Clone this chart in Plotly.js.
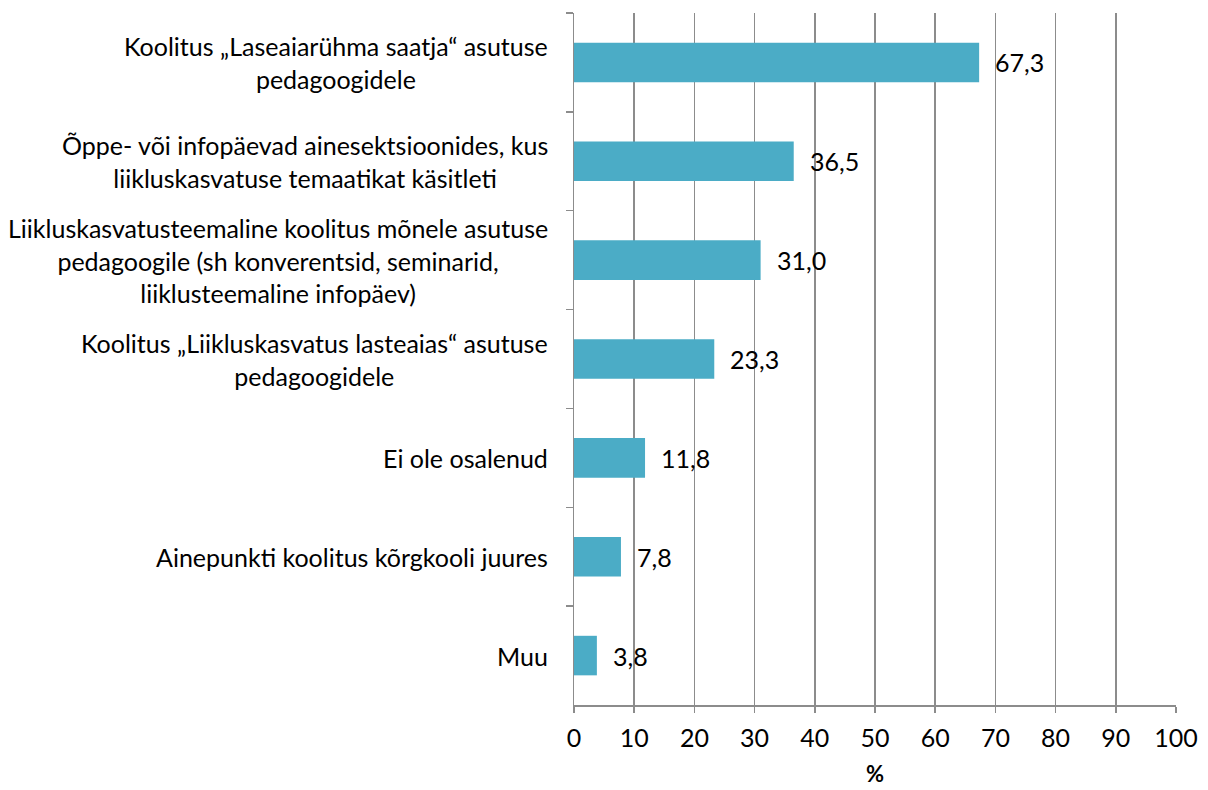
<!DOCTYPE html>
<html>
<head>
<meta charset="utf-8">
<script src="https://cdn.plot.ly/plotly-3.0.1.min.js"></script>
<style>html,body{margin:0;padding:0;background:#fff;}#chart{width:1208px;height:790px;}</style>
</head>
<body>
<div id="chart"></div>
<script>
const categories = [
  "Koolitus „Laseaiarühma saatja“ asutuse<br>pedagoogidele",
  "Õppe- või infopäevad ainesektsioonides, kus<br>liikluskasvatuse temaatikat käsitleti",
  "Liikluskasvatusteemaline koolitus mõnele asutuse<br>pedagoogile (sh konverentsid, seminarid,<br>liiklusteemaline infopäev)",
  "Koolitus „Liikluskasvatus lasteaias“ asutuse<br>pedagoogidele",
  "Ei ole osalenud",
  "Ainepunkti koolitus kõrgkooli juures",
  "Muu"
];
const values = [67.3, 36.5, 31.0, 23.3, 11.8, 7.8, 3.8];
const valueLabels = ["67,3", "36,5", "31,0", "23,3", "11,8", "7,8", "3,8"];
const xTicks = [0,10,20,30,40,50,60,70,80,90,100];
const xTitle = "%";

const FONT = "Lato, 'Open Sans', sans-serif";
const FS = 25;
const ids = categories.map((c, i) => "c" + i);

const trace = {
  type: "bar",
  orientation: "h",
  y: ids,
  x: values,
  marker: {color: "#4BACC6", line: {width: 0}},
  hoverinfo: "none"
};

const annotations = [];
ids.forEach((id, i) => {
  annotations.push({
    xref: "paper", yref: "y", x: 0, y: id,
    xanchor: "right", yanchor: "middle", xshift: -24,
    align: "center", showarrow: false,
    text: categories[i],
    font: {family: FONT, size: FS, color: "#000"}
  });
  annotations.push({
    xref: "x", yref: "y", x: values[i], y: id,
    xanchor: "left", yanchor: "middle", xshift: 14,
    showarrow: false, text: valueLabels[i],
    font: {family: FONT, size: FS, color: "#000"}
  });
});
annotations.push({
  xref: "paper", yref: "paper", x: 0.5, y: 0,
  xanchor: "center", yanchor: "middle", yshift: -68,
  showarrow: false, text: "<b>" + xTitle + "</b>",
  font: {family: FONT, size: FS - 3, color: "#000"}
});

const layout = {
  width: 1208, height: 790,
  margin: {l: 574, r: 32, t: 13, b: 85},
  paper_bgcolor: "#fff", plot_bgcolor: "#fff",
  showlegend: false,
  bargap: 0.6,
  font: {family: FONT, size: FS, color: "#000"},
  xaxis: {
    range: [0, 100], tickvals: xTicks, ticktext: xTicks.map(String),
    showgrid: true, gridcolor: "#8c8c8c", gridwidth: 1.5,
    showline: true, linecolor: "#8c8c8c", linewidth: 1.5,
    ticks: "outside", ticklen: 6, tickcolor: "#8c8c8c", tickwidth: 1.5,
    ticklabelstandoff: 4,
    zeroline: false, fixedrange: true,
    tickfont: {family: FONT, size: FS, color: "#000"}
  },
  yaxis: {
    type: "category", autorange: "reversed",
    showticklabels: false, showgrid: false,
    showline: true, linecolor: "#8c8c8c", linewidth: 1.5,
    ticks: "outside", tickson: "boundaries", ticklen: 7, tickcolor: "#8c8c8c", tickwidth: 1.5,
    zeroline: false, fixedrange: true
  },
  annotations: annotations
};

Plotly.newPlot("chart", [trace], layout, {displayModeBar: false, staticPlot: true});
</script>
</body>
</html>
